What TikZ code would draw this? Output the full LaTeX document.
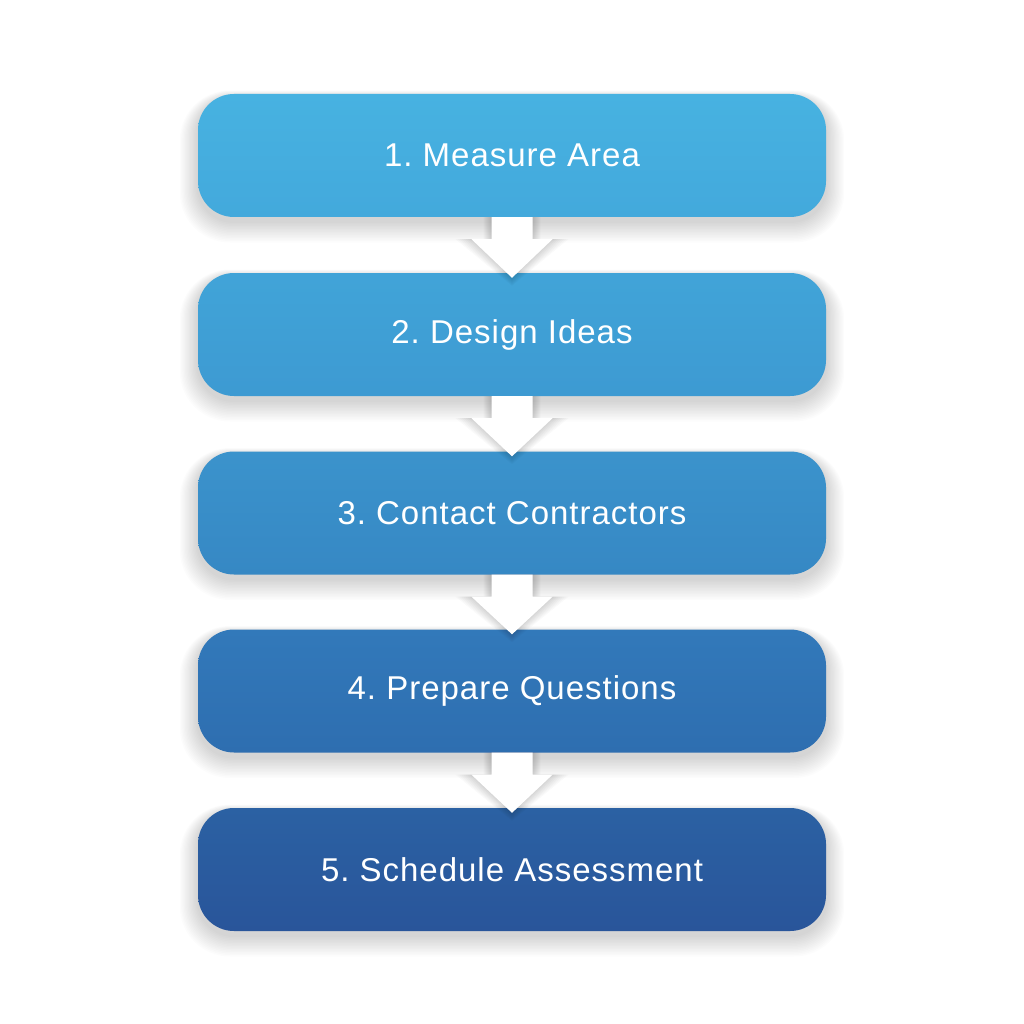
\documentclass[tikz,border=0pt]{standalone}
\usepackage{fontspec}
\setmainfont[LetterSpace=3]{Liberation Sans}
\usetikzlibrary{calc}
\definecolor{aT}{HTML}{47B2E1}\definecolor{aB}{HTML}{43A9DC}
\definecolor{bT}{HTML}{41A4D8}\definecolor{bB}{HTML}{3D9AD2}
\definecolor{cT}{HTML}{3B93CC}\definecolor{cB}{HTML}{3688C4}
\definecolor{dT}{HTML}{3279BA}\definecolor{dB}{HTML}{2E6EB0}
\definecolor{eT}{HTML}{2B61A3}\definecolor{eB}{HTML}{29559A}
\begin{document}
\frenchspacing
\begin{tikzpicture}[x=1pt,y=-1pt,
  stepbox/.style={minimum width=628pt, minimum height=123pt, rounded corners=36pt,
    inner sep=0pt, font=\fontsize{33}{40}\selectfont, text=white},
  arrowfill/.style={fill=white},
  shadowlayer/.style={fill=black, opacity=0.012}]
\useasboundingbox (0,0) rectangle (1024,1024);
\fill[white] (0,0) rectangle (1024,1024);
% soft shadows behind the boxes
\foreach \yc in {155.5,334.5,513,691,869.5}{
  \foreach \i in {1,...,14}{
    \pgfmathsetmacro{\rr}{36+\i}
    \fill[shadowlayer, rounded corners=\rr pt]
      (198-\i*1.3, \yc-58-\i*0.5) rectangle (826+\i*1.3, \yc+66+\i*1.5);
  }
}
\node[stepbox, top color=aT, bottom color=aB] (b1) at (512,155.5) {1. Measure Area};
\node[stepbox, top color=bT, bottom color=bB] (b2) at (512,334.5) {2. Design Ideas};
\node[stepbox, top color=cT, bottom color=cB] (b3) at (512,513) {3. Contact Contractors};
\node[stepbox, top color=dT, bottom color=dB] (b4) at (512,691) {4. Prepare Questions};
\node[stepbox, top color=eT, bottom color=eB] (b5) at (512,869.5) {5. Schedule Assessment};
% arrows
\foreach \a/\b in {b1/b2,b2/b3,b3/b4,b4/b5}{
  \foreach \i in {1,...,8}{
    \fill[shadowlayer, opacity=0.02]
      ($(\a.south)+(-20.5-\i,0)$) -- ++(0,22) -- ++(-20-\i,0)
      -- ($(\b.north)+(0,5+\i)$) -- ($(\a.south)+(40.5+2*\i,22)$)
      -- ++(-20-\i,0) -- ++(0,-22) -- cycle;
  }
  \fill[arrowfill]
    ($(\a.south)+(-20.5,0)$) -- ++(0,22) -- ++(-20,0)
    -- ($(\b.north)+(0,5)$) -- ($(\a.south)+(40.5,22)$)
    -- ++(-20,0) -- ++(0,-22) -- cycle;
}
\end{tikzpicture}
\end{document}
